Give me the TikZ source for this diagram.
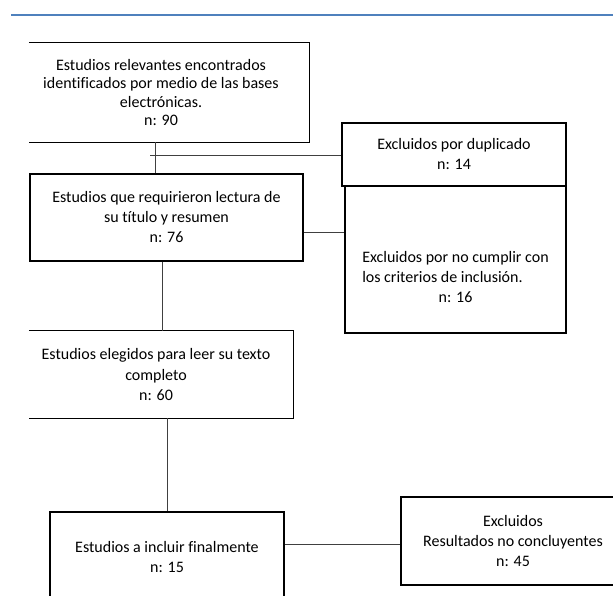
\documentclass[tikz,border=0pt]{standalone}
\usepackage{fontspec}
\setmainfont{Carlito}[Ligatures=NoCommon]
\usepackage{xcolor}
\usepackage{tikz}
\usetikzlibrary{positioning,calc}
\definecolor{rulebl}{RGB}{79,129,189}

\begin{document}
\begin{tikzpicture}[x=1pt, y=-1pt,
    font={\fontsize{16}{20}\selectfont},
    box/.style={draw, line width=1.3pt, rectangle, align=center, inner sep=0pt},
    openbox/.style={rectangle, align=center, inner sep=0pt},
    link/.style={draw=black!75, line width=0.7pt}]
    \clip (0,0) rectangle (613,595);
    \draw[rulebl, line width=1.6pt] (11,15) -- (613,15);

    \node[openbox, minimum width=296pt, minimum height=99pt, font={\fontsize{16}{18.5}\selectfont}] (busq) at (161,92.5)
    {Estudios relevantes encontrados\\identificados por medio de las bases\\electrónicas.\\n: 90};
    \draw[line width=1.3pt] ([xshift=16pt]busq.north west) -- (busq.north east) -- (busq.south east) -- ([xshift=16pt]busq.south west);
    \node[box, minimum width=224pt, minimum height=63pt] (dupl) at (454,154.5)
    {Excluidos por duplicado\\n: 14};
    \node[box, minimum width=273pt, minimum height=87pt] (lect) at (166.5,217.5)
    {Estudios que requirieron lectura de\\su título y resumen\\n: 76};
    \node[box, minimum width=221pt, minimum height=147pt] (crit) at (455.5,259.5) {};
    \node[inner sep=0pt] (crittxt) at (455.5,278)
    {\begin{tabular}{@{}l@{}}Excluidos por no cumplir con\\los criterios de inclusión.\\\multicolumn{1}{@{}c@{}}{n: 16}\end{tabular}};
    \node[openbox, minimum width=274pt, minimum height=87pt] (compl) at (156,374.5)
    {Estudios elegidos para leer su texto\\completo\\n: 60};
    \draw[line width=1.3pt] ([xshift=10pt]compl.north west) -- (compl.north east) -- (compl.south east) -- ([xshift=10pt]compl.south west);
    \node[box, minimum width=234pt, minimum height=89pt] (final) at (167,556.5)
    {Estudios a incluir finalmente\\n: 15};
    \node[box, minimum width=224pt, minimum height=88pt] (concl) at (513,541)
    {Excluidos\\Resultados no concluyentes\\n: 45};

    \draw[link] ([xshift=-6pt]busq.south) coordinate (v1) -- (v1 |- lect.north);
    \coordinate (j1) at (150,155);
    \draw[link] (j1) -- (j1 -| dupl.west);
    \draw[link] ([yshift=-14.5pt]lect.east) coordinate (h2) -- (h2 -| crit.west);
    \draw[link] ([xshift=-4.5pt]lect.south) coordinate (v2) -- (v2 |- compl.north);
    \draw[link] (final.north |- compl.south) -- (final.north);
    \draw[link] ([yshift=12.5pt]final.east) coordinate (h5) -- (h5 -| concl.west);
\end{tikzpicture}
\end{document}
